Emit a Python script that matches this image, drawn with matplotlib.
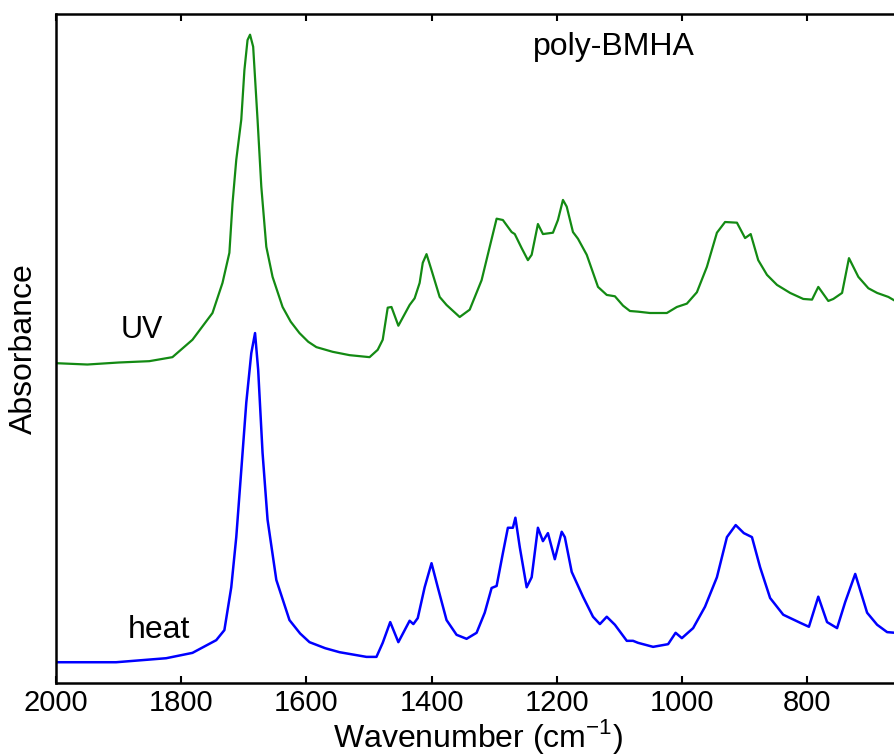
import numpy as np
import matplotlib.pyplot as plt

plt.rcParams['font.family'] = ['Liberation Sans', 'DejaVu Sans']

# UV-cured spectrum (wavenumber, absorbance in arbitrary units)
uv_wn = [2000, 1950, 1900, 1851, 1814, 1782, 1750, 1734, 1723, 1718, 1712, 1704, 1699, 1694,
         1690, 1685, 1678, 1672, 1664, 1654, 1638, 1625, 1611, 1597, 1584, 1558, 1531, 1499,
         1486, 1478, 1470, 1464, 1453, 1435, 1427, 1419, 1414, 1408, 1400, 1387,
         1376, 1355, 1339, 1320, 1307, 1296, 1286, 1272, 1267, 1256, 1246, 1240, 1230,
         1222, 1206, 1198, 1190, 1184, 1174, 1166, 1152, 1134, 1120, 1107, 1094,
         1083, 1070, 1051, 1024, 1008, 992, 976, 960, 944, 931, 912, 899, 890,
         878, 864, 848, 827, 806, 792, 782, 766, 758, 744, 733, 718, 702, 688,
         670, 659]
uv_abs = [0.478, 0.476, 0.479, 0.481, 0.487, 0.513, 0.553, 0.598, 0.643, 0.717, 0.782, 0.842, 0.916, 0.961,
          0.969, 0.951, 0.842, 0.742, 0.652, 0.607, 0.562, 0.540, 0.523, 0.510, 0.502, 0.495, 0.490, 0.487,
          0.498, 0.513, 0.561, 0.562, 0.534, 0.565, 0.575, 0.598, 0.628, 0.641, 0.617, 0.577,
          0.565, 0.547, 0.558, 0.602, 0.652, 0.694, 0.692, 0.674, 0.671, 0.650, 0.632, 0.640, 0.686,
          0.671, 0.673, 0.692, 0.722, 0.712, 0.674, 0.664, 0.640, 0.592, 0.580, 0.578, 0.564,
          0.556, 0.555, 0.553, 0.553, 0.562, 0.567, 0.584, 0.622, 0.673, 0.689, 0.688, 0.665, 0.671,
          0.632, 0.610, 0.595, 0.583, 0.574, 0.573, 0.592, 0.571, 0.574, 0.583, 0.635, 0.607, 0.590,
          0.583, 0.577, 0.571]

# heat-cured spectrum
heat_wn = [2000, 1904, 1824, 1782, 1744, 1731, 1720, 1712, 1704, 1696, 1688, 1682,
           1677, 1670, 1662, 1648, 1627, 1610, 1595, 1570, 1547, 1504, 1488, 1478, 1466, 1453,
           1435, 1429, 1422, 1411, 1400, 1390, 1376, 1360, 1344, 1328, 1315, 1304,
           1296, 1286, 1278, 1270, 1266, 1259, 1248, 1240, 1230, 1222, 1214, 1203,
           1192, 1187, 1176, 1158, 1142, 1131, 1120, 1107, 1088, 1078, 1070, 1046,
           1022, 1010, 1000, 982, 963, 944, 928, 914, 901, 888, 875, 859, 838, 811,
           797, 782, 768, 752, 739, 723, 704, 688, 672, 659]
heat_abs = [0.031, 0.031, 0.037, 0.045, 0.064, 0.079, 0.143, 0.218, 0.318, 0.419, 0.493, 0.523,
            0.468, 0.344, 0.244, 0.154, 0.094, 0.074, 0.061, 0.052, 0.046, 0.039, 0.039, 0.060, 0.091, 0.061,
            0.093, 0.088, 0.097, 0.143, 0.179, 0.143, 0.094, 0.072, 0.066, 0.075, 0.105, 0.142,
            0.145, 0.194, 0.232, 0.232, 0.247, 0.203, 0.143, 0.158, 0.232, 0.212, 0.224, 0.185,
            0.226, 0.218, 0.166, 0.129, 0.099, 0.088, 0.099, 0.087, 0.063, 0.063, 0.060, 0.054,
            0.058, 0.075, 0.067, 0.082, 0.114, 0.158, 0.218, 0.236, 0.224, 0.218, 0.173, 0.127, 0.102, 0.090,
            0.084, 0.129, 0.091, 0.082, 0.121, 0.163, 0.105, 0.087, 0.076, 0.075]

fig = plt.figure(figsize=(8.95, 7.54), dpi=100)
# right spine sits just past the image edge, as in the cropped original
ax = fig.add_axes([0.0626, 0.0942, 0.944, 0.8873])

ax.plot(uv_wn, uv_abs, color='#138a13', lw=1.6)
ax.plot(heat_wn, heat_abs, color='#0000ff', lw=1.8)

ax.set_xlim(2000, 650)
ax.set_ylim(0, 1)
ax.set_xticks([2000, 1800, 1600, 1400, 1200, 1000, 800])
ax.set_yticks([])
ax.tick_params(axis='x', direction='in', length=5, width=1.5, top=True,
               labelsize=21, pad=4)
for s in ax.spines.values():
    s.set_linewidth(1.8)

ax.set_xlabel('Wavenumber (cm$^{\\mathregular{-1}}$)', fontsize=23, labelpad=0)
ax.set_ylabel('Absorbance', fontsize=23, labelpad=12)

ax.text(1108, 0.951, 'poly-BMHA', fontsize=23, ha='center', va='center')
ax.text(1863, 0.528, 'UV', fontsize=22, ha='center', va='center')
ax.text(1835, 0.079, 'heat', fontsize=23, ha='center', va='center')

fig.savefig('out.png', dpi=100)
